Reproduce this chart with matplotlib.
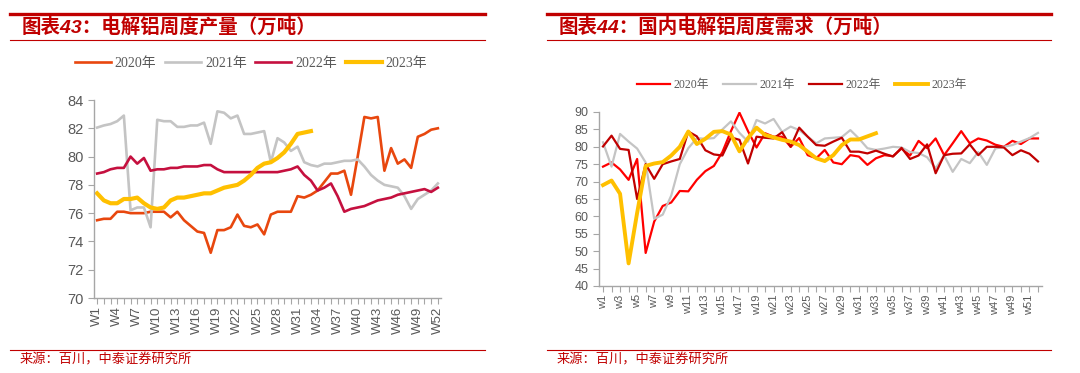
import matplotlib
matplotlib.use("Agg")
import matplotlib.pyplot as plt
from matplotlib.lines import Line2D

# weekly electrolytic aluminium output, 10k t
weeks = list(range(1, 53))
out_2020 = [75.5, 75.6, 75.6, 76.1, 76.1, 76.0, 76.0, 76.0, 76.1, 76.1,
            76.1, 75.7, 76.1, 75.5, 75.1, 74.7, 74.6, 73.2, 74.8, 74.8,
            75.0, 75.9, 75.1, 75.0, 75.2, 74.5, 75.9, 76.1, 76.1, 76.1,
            77.2, 77.1, 77.3, 77.6, 78.2, 78.8, 78.8, 79.0, 77.3, 80.0,
            82.8, 82.7, 82.8, 79.0, 80.6, 79.5, 79.8, 79.2, 81.4, 81.6,
            81.9, 82.0]
out_2021 = [82.05, 82.2, 82.3, 82.5, 82.9, 76.2, 76.4, 76.4, 75.0, 82.6,
            82.5, 82.5, 82.1, 82.1, 82.2, 82.2, 82.4, 80.9, 83.2, 83.1,
            82.7, 82.9, 81.6, 81.6, 81.7, 81.8, 79.6, 81.3, 81.0, 80.4,
            80.7, 79.6, 79.4, 79.3, 79.5, 79.5, 79.6, 79.7, 79.7, 79.8,
            79.3, 78.7, 78.3, 78.0, 77.9, 77.8, 77.2, 76.3, 77.0, 77.3,
            77.6, 78.1]
out_2022 = [78.8, 78.9, 79.1, 79.2, 79.2, 80.0, 79.5, 79.9, 79.0, 79.1,
            79.1, 79.2, 79.2, 79.3, 79.3, 79.3, 79.4, 79.4, 79.1, 78.9,
            78.9, 78.9, 78.9, 78.9, 78.9, 78.9, 78.9, 78.9, 79.0, 79.1,
            79.3, 78.7, 78.3, 77.6, 77.8, 78.1, 77.2, 76.1, 76.3, 76.4,
            76.5, 76.7, 76.9, 77.0, 77.1, 77.3, 77.4, 77.5, 77.6, 77.7,
            77.5, 77.8]
out_2023 = [77.4, 76.9, 76.7, 76.7, 77.0, 77.0, 77.1, 76.7, 76.4, 76.3,
            76.4, 76.9, 77.1, 77.1, 77.2, 77.3, 77.4, 77.4, 77.6, 77.8,
            77.9, 78.0, 78.3, 78.7, 79.2, 79.5, 79.6, 79.9, 80.3, 80.9,
            81.6, 81.7, 81.8]

# weekly domestic demand, 10k t
dem_2020 = [74.3, 75.5, 73.5, 70.5, 76.5, 49.5, 58.5, 63.0, 64.0, 67.3,
            67.2, 70.5, 73.0, 74.5, 78.5, 84.5, 89.8, 84.5, 79.8, 83.9,
            82.9, 82.9, 80.0, 82.5, 77.6, 76.7, 79.1, 75.5, 75.0, 77.6,
            77.2, 74.8, 76.7, 77.6, 77.3, 79.5, 77.5, 81.7, 79.6, 82.4,
            77.6, 81.0, 84.5, 81.0, 82.4, 81.8, 80.6, 80.0, 81.7, 80.8,
            82.4, 82.4]
dem_2021 = [81.3, 74.3, 83.7, 81.5, 79.5, 75.5, 59.3, 60.5, 66.0, 75.0,
            79.6, 82.5, 82.3, 82.5, 85.0, 87.3, 84.0, 81.5, 87.7, 86.7,
            88.0, 84.3, 85.8, 84.8, 82.9, 81.0, 82.4, 82.6, 82.8, 84.8,
            82.4, 79.6, 79.1, 79.5, 80.0, 79.8, 78.5, 78.2, 77.0, 73.8,
            77.5, 72.8, 76.5, 75.3, 78.5, 74.8, 79.5, 80.0, 80.5, 81.5,
            82.5, 84.0]
dem_2022 = [80.1, 83.2, 79.4, 79.1, 65.0, 75.0, 70.8, 75.0, 75.8, 76.5,
            84.4, 83.0, 79.0, 77.8, 77.5, 82.7, 82.0, 75.2, 82.9, 82.6,
            82.4, 84.2, 80.0, 85.5, 82.9, 80.5, 80.3, 81.5, 82.6, 78.6,
            78.6, 78.1, 78.9, 78.0, 77.2, 79.7, 76.5, 77.5, 80.7, 72.4,
            77.6, 78.0, 78.1, 80.7, 77.6, 80.0, 80.0, 79.8, 77.6, 79.0,
            78.0, 75.8]
dem_2023 = [69.0, 70.3, 66.5, 46.5, 61.0, 74.5, 75.2, 75.6, 77.5, 80.0,
            84.4, 80.8, 82.3, 84.3, 84.5, 83.5, 78.7, 82.5, 85.5, 83.4,
            82.7, 82.0, 81.5, 80.5, 78.6, 76.7, 75.9, 77.6, 80.5, 82.1,
            82.1, 83.0, 83.9]

years = ["2020年", "2021年", "2022年", "2023年"]

W, H = 1080, 373
RED = "#C00000"
GRAY_TXT = "#595959"
AX_COL = "#A6A6A6"
CJK = ["Noto Sans CJK SC", "DejaVu Sans"]
SANS = ["Liberation Sans", "Noto Sans CJK SC"]
SERIF = ["Liberation Serif", "Noto Sans CJK SC"]

fig = plt.figure(figsize=(W / 100, H / 100), dpi=100)


def fx(px):
    return px / W


def fy(py):
    return 1 - py / H


def frame(x0, x1, title):
    fig.add_artist(Line2D([fx(x0), fx(x1)], [fy(13.5), fy(13.5)], color=RED, lw=2.4))
    fig.add_artist(Line2D([fx(x0), fx(x1)], [fy(40), fy(40)], color=RED, lw=0.8))
    fig.add_artist(Line2D([fx(x0), fx(x1)], [fy(350), fy(350)], color=RED, lw=0.8))
    fig.text(fx(x0 + 12), fy(27.5), title, color=RED, fontsize=14, fontweight="bold",
             family=SANS, va="center", ha="left", style="italic")
    fig.text(fx(x0 + 10), fy(360), "来源：百川，中泰证券研究所", color=RED, fontsize=9.5,
             family=CJK, va="center", ha="left")


def style_ax(ax, ylim, yticks, xlabels, xfs, yfs):
    ax.set_xlim(0.53, 52.47)
    ax.set_ylim(*ylim)
    ax.set_yticks(yticks)
    ax.set_xticks(weeks, minor=True)
    ax.set_xticks(list(xlabels.keys()))
    ax.set_xticklabels(list(xlabels.values()), rotation=90, family=SANS, fontsize=xfs, color=GRAY_TXT)
    for lab in ax.get_yticklabels():
        lab.set_family(SANS)
        lab.set_fontsize(yfs)
        lab.set_color(GRAY_TXT)
    for s in ("top", "right"):
        ax.spines[s].set_visible(False)
    for s in ("left", "bottom"):
        ax.spines[s].set_color(AX_COL)
        ax.spines[s].set_linewidth(1.0)
    ax.tick_params(axis="both", which="both", color=AX_COL, direction="out", length=4, width=0.8)
    ax.tick_params(axis="x", which="both", pad=2)


# ---- left: output
frame(10, 485, "图表43：电解铝周度产量（万吨）")
ax1 = fig.add_axes([fx(94), fy(298), fx(441 - 94), (298 - 100) / H])
lc = ["#E8470E", "#C4C4C4", "#C5103F", "#FFC000"]
lw = [1.9, 1.9, 1.9, 3.0]
for ys, c, w, lab in zip([out_2020, out_2021, out_2022, out_2023], lc, lw, years):
    ax1.plot(weeks[:len(ys)], ys, color=c, lw=w, label=lab, solid_joinstyle="round")
style_ax(ax1, (70, 84), range(70, 85, 2), {w: "W%d" % w for w in range(1, 53, 3)}, 9.5, 10.5)
h, l = ax1.get_legend_handles_labels()
fig.legend(h, l, loc="center", bbox_to_anchor=(fx(251), fy(63)), ncol=4, frameon=False,
           prop={"family": SERIF, "size": 10}, labelcolor=GRAY_TXT, handlelength=2.6,
           handletextpad=0.3, columnspacing=0.6)

# ---- right: demand
frame(547, 1051, "图表44：国内电解铝周度需求（万吨）")
ax2 = fig.add_axes([fx(599), fy(286), fx(1042 - 599), (286 - 112) / H])
rc = ["#FF0000", "#C4C4C4", "#C00000", "#FFC000"]
rw = [1.6, 1.6, 1.6, 2.8]
for ys, c, w, lab in zip([dem_2020, dem_2021, dem_2022, dem_2023], rc, rw, years):
    ax2.plot(weeks[:len(ys)], ys, color=c, lw=w, label=lab, solid_joinstyle="round")
style_ax(ax2, (40, 90), range(40, 91, 5), {w: "w%d" % w for w in range(1, 53, 2)}, 8, 9)
h, l = ax2.get_legend_handles_labels()
fig.legend(h, l, loc="center", bbox_to_anchor=(fx(802), fy(85)), ncol=4, frameon=False,
           prop={"family": SERIF, "size": 8.5}, labelcolor=GRAY_TXT, handlelength=2.8,
           handletextpad=0.3, columnspacing=1.2)

fig.savefig("out.png", dpi=100)
